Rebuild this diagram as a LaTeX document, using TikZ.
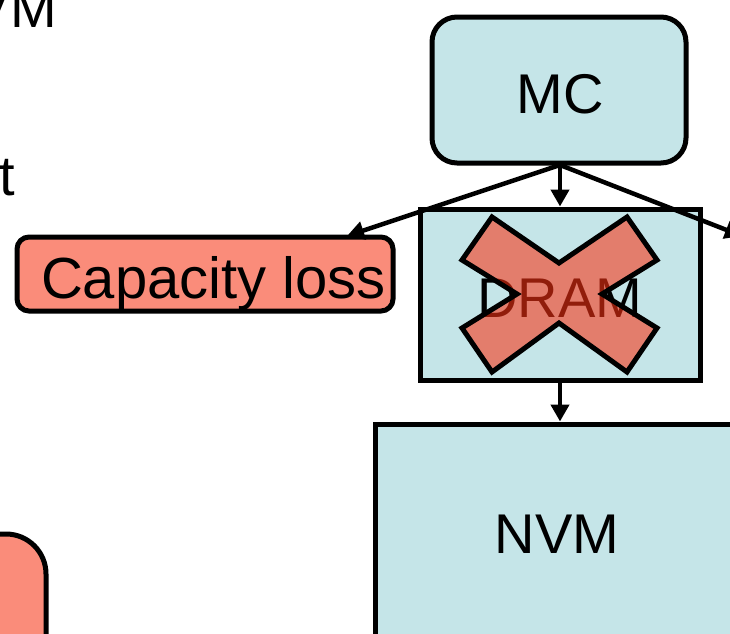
\documentclass[tikz,border=0pt]{standalone}
\usepackage{fontspec}
\setmainfont{Liberation Sans}
\usetikzlibrary{arrows.meta}
\definecolor{boxcyan}{RGB}{197,229,232}
\definecolor{boxsalmon}{RGB}{250,140,122}
\definecolor{crossred}{RGB}{250,50,20}
\tikzset{
  big/.style={font=\fontsize{56}{67}\selectfont, inner sep=0pt},
  unit/.style={draw=black, line width=5pt, fill=boxcyan, inner sep=0pt},
  warnbox/.style={draw=black, line width=5pt, fill=boxsalmon, inner sep=0pt},
  link/.style={line width=4.5pt, -{Triangle[width=18pt,length=17pt]}},
}
\begin{document}
\begin{tikzpicture}[x=1pt, y=-1pt]
\useasboundingbox (0,0) rectangle (730,633);
\clip (0,0) rectangle (730,633);

% bullet text running in from the left
\node[big, anchor=base east] (txtvm) at (57,27) {NVM};
\node[big, anchor=base east] (txtt) at (15,195) {t};

% memory controller
\node[unit, rounded corners=25pt, minimum width=254pt, minimum height=146pt] (mc) at (559,90) {};
\node[big, anchor=base] (mclabel) at (560,113) {MC};

% capacity-loss tag
\node[warnbox, rounded corners=12pt, minimum width=376pt, minimum height=74pt] (cap) at (205,274) {};
\node[big, font=\fontsize{58}{69}\selectfont, anchor=base] (caplabel) at (213.5,298) {Capacity loss};

% second warning box at the lower left
\node[warnbox, rounded corners=40pt, minimum width=300pt, minimum height=300pt] (warn2) at (-104,684) {};

% DRAM layer, crossed out
\node[unit, minimum width=280pt, minimum height=171pt] (dram) at (560,294.5) {};
\node[big, anchor=base] (dramlabel) at (560,317) {DRAM};
\draw[line width=5pt, line join=miter, fill=crossred, fill opacity=0.58]
  (492,217) -- (559,263) -- (627,217) -- (657,260) -- (602,294) -- (657,328)
  -- (627,372) -- (559,323) -- (492,372) -- (462,328) -- (517,294) -- (462,260) -- cycle;

% NVM layer
\node[unit, minimum width=364pt, minimum height=218pt] (nvm) at (557,533) {};
\node[big, anchor=base] (nvmlabel) at (557,553) {NVM};

% connectors
\coordinate (fork) at (560,165);
\coordinate (capin) at (347,236);
\coordinate (offright) at (742,236);
\draw[link] (fork) -- (capin);
\draw[link] (fork) -- (dram.north);
\draw[link] (fork) -- (offright);
\draw[link] (dram.south) -- (dram.south |- nvm.north);
\end{tikzpicture}
\end{document}
